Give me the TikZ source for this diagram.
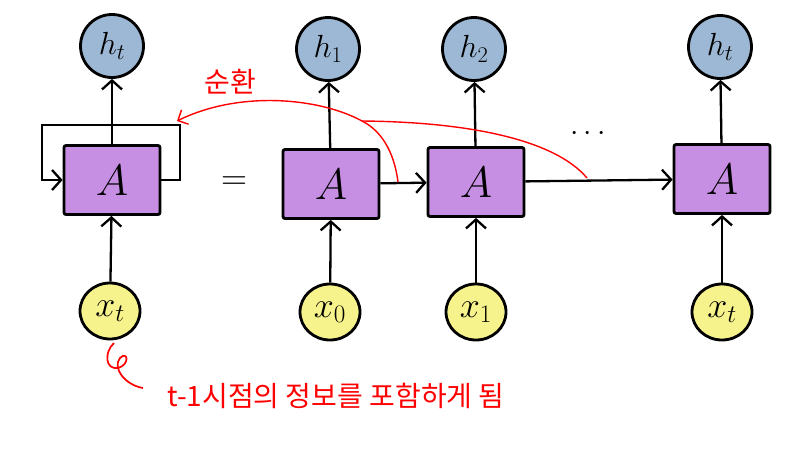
\RequirePackage{fix-cm}
\documentclass[tikz,border=0pt]{standalone}
\usepackage{fontspec}
\newfontfamily\krfont{Noto Sans CJK KR}
\usetikzlibrary{arrows.meta,shapes.geometric}
\definecolor{hblue}{RGB}{157,184,212}
\definecolor{cellpurple}{RGB}{199,143,228}
\definecolor{xyellow}{RGB}{247,243,140}
\begin{document}
\begin{tikzpicture}[x=1pt, y=-1pt,
  hnode/.style={shape=circle, draw=black, line width=2.8pt, fill=hblue, minimum size=63pt, inner sep=0pt, font=\fontsize{32}{36}\selectfont},
  xnode/.style={shape=ellipse, draw=black, line width=2.8pt, fill=xyellow, minimum width=60pt, minimum height=56pt, inner sep=0pt, font=\fontsize{36}{40}\selectfont},
  cell/.style={shape=rectangle, draw=black, line width=2.8pt, fill=cellpurple, minimum width=96pt, minimum height=69pt, rounded corners=2pt, font=\fontsize{44}{48}\selectfont},
  flow/.style={-{Straight Barb[length=9pt,width=20pt]}, line width=2.3pt},
  redflow/.style={-{Straight Barb[length=8pt,width=16pt]}, draw=red, line width=1.4pt},
  note/.style={text=red, font=\krfont\fontsize{28}{32}\selectfont}]
\fill[white] (0,0) rectangle (800,450);
\useasboundingbox (0,0) rectangle (800,450);
\node[hnode] (h0) at (112,46) {$h_t$};
\node[cell] (A0) at (112,180) {$A$};
\node[xnode] (x0) at (110,311) {$x_t$};
\coordinate (lpR) at (180,125);
\coordinate (lpL) at (42,125);
\draw[flow] (A0.east) -| (lpR) -- (lpL) |- (A0.west);
\path[flow] (x0) edge (A0);
\path[flow] (A0) edge (h0);
\node[font=\fontsize{36}{40}\selectfont] (eq) at (234,183) {$=$};
\node[hnode] (h1) at (328,49) {$h_1$};
\node[hnode] (h2) at (474,49) {$h_2$};
\node[hnode] (h3) at (720,47) {$h_t$};
\node[cell] (A1) at (331,184) {$A$};
\node[cell] (A2) at (476,182) {$A$};
\node[cell] (A3) at (722,179) {$A$};
\node[xnode] (x1) at (330,312) {$x_0$};
\node[xnode] (x2) at (476,312) {$x_1$};
\node[xnode] (x3) at (722,312) {$x_t$};
\node[font=\fontsize{30}{34}\selectfont] (dots) at (588,134) {$\cdots$};
\path[flow] (x1) edge (A1);
\path[flow] (x2) edge (A2);
\path[flow] (x3) edge (A3);
\path[flow] (A1) edge (h1);
\path[flow] (A2) edge (h2);
\path[flow] (A3) edge (h3);
\path[flow] (A1) edge (A2);
\path[flow] (A2) edge (A3);
\coordinate (r1) at (398,182);
\coordinate (r2) at (587,178);
\coordinate (rj) at (362,121);
\coordinate (rtip) at (177,121);
\draw[redflow] (r1) .. controls (394,150) and (380,130) .. (rj) .. controls (320,98) and (240,90) .. (rtip);
\draw[red, line width=1.4pt] (r2) .. controls (555,140) and (470,122) .. (rj);
\node[note] (loopnote) at (230,82) {순환};
\coordinate (hk) at (114,343);
\draw[red, line width=1.7pt] (hk) .. controls (104,352) and (105,370) .. (118,368) .. controls (130,365) and (128,350) .. (120,358) .. controls (112,368) and (125,385) .. (143,388);
\node[note] (infonote) at (336,396) {t-1시점의 정보를 포함하게 됨};
\end{tikzpicture}
\end{document}
